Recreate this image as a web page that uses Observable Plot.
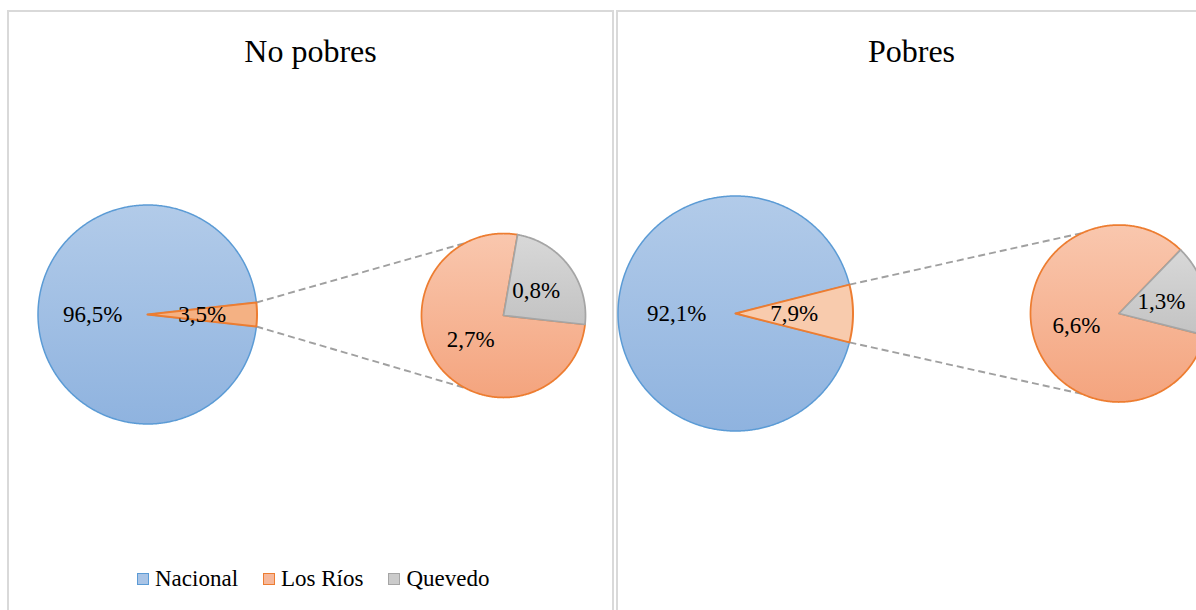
<!DOCTYPE html>
<html>
<head>
<meta charset="utf-8">
<script src="https://cdn.jsdelivr.net/npm/d3@7"></script>
<script src="https://cdn.jsdelivr.net/npm/@observablehq/plot@0.6"></script>
<style>
  html, body { margin: 0; padding: 0; background: #fff; width: 1196px; height: 610px; overflow: hidden; }
  body { position: relative; font-family: "Liberation Serif", "Times New Roman", serif; color: #000; }
  .panel { position: absolute; top: 10px; width: 603px; height: 640px; border: 2px solid #d9d9d9; box-sizing: content-box; }
  .title { position: absolute; top: 35px; width: 400px; text-align: center; font-size: 32px; line-height: 32px; white-space: nowrap; }
  .chart { position: absolute; top: 100px; }
  .legend { position: absolute; top: 567px; left: 137px; display: flex; align-items: center; font-size: 23px; line-height: 23px; white-space: nowrap; }
  .legend .item { display: flex; align-items: center; margin-right: 25px; }
  .legend .sw { width: 10px; height: 10px; border: 1.5px solid; margin-right: 6px; }
</style>
</head>
<body>
<script>
// ---- data ----
const panelTitles = ["No pobres", "Pobres"];
const categories = ["Nacional", "Los Ríos", "Quevedo"];
const nacional = [96.5, 92.1];            // primary pie: Nacional
const losRiosTotal = [3.5, 7.9];          // primary pie: Los Ríos (split in secondary pie)
const losRiosSinQuevedo = [2.66, 6.58];   // secondary pie: Los Ríos
const quevedo = [0.84, 1.32];             // secondary pie: Quevedo

// ---- styling / layout ----
const catStroke = ["#5b9bd5", "#ed7d31", "#a5a5a5"];
const catSwatch = ["#a9c4e6", "#f6b89b", "#cbcbcb"];
const layout = [
  {left: 7, titleX: 310.5, c1: [140, 214], r1: 109.5, c2: [496, 215], r2: 82, conn: 28, otherFill: "#f4b183"},
  {left: 616, titleX: 911.5, c1: [119, 213], r1: 117.5, c2: [502.5, 213], r2: 88.5, conn: 24.5, otherFill: "#f8cbad"}
];
const W = 607, H = 440;
const fmt = v => d3.format(".1f")(v).replace(".", ",") + "%";

function arc(cx, cy, r, a0, a1) {
  const pts = [{x: cx, y: cy}];
  const n = Math.max(2, Math.ceil((a1 - a0) / (Math.PI / 360)));
  for (let i = 0; i <= n; i++) {
    const a = a0 + (a1 - a0) * i / n;
    pts.push({x: cx + r * Math.sin(a), y: cy - r * Math.cos(a)});
  }
  return pts;
}
function pt(cx, cy, r, a) { return {x: cx + r * Math.sin(a), y: cy - r * Math.cos(a)}; }
function gradient(id, stops) {
  return () => {
    const defs = d3.create("svg:defs");
    const g = defs.append("linearGradient").attr("id", id)
      .attr("x1", 0).attr("y1", 0).attr("x2", 0).attr("y2", 1);
    stops.forEach(([o, c]) => g.append("stop").attr("offset", o).attr("stop-color", c));
    return defs.node();
  };
}

layout.forEach((L, i) => {
  const panel = document.createElement("div");
  panel.className = "panel";
  panel.style.left = L.left + "px";
  document.body.appendChild(panel);

  const title = document.createElement("div");
  title.className = "title";
  title.textContent = panelTitles[i];
  title.style.left = (L.titleX - 200) + "px";
  document.body.appendChild(title);

  const [c1x, c1y] = L.c1, [c2x, c2y] = L.c2;
  const total1 = nacional[i] + losRiosTotal[i];
  const half = Math.PI * losRiosTotal[i] / total1;
  const oA0 = Math.PI / 2 - half, oA1 = Math.PI / 2 + half;
  const blueSlice = arc(c1x, c1y, L.r1, oA1, oA0 + 2 * Math.PI);
  const otherSlice = arc(c1x, c1y, L.r1, oA0, oA1);

  const total2 = losRiosSinQuevedo[i] + quevedo[i];
  const gEnd = oA1, gStart = gEnd - 2 * Math.PI * quevedo[i] / total2;
  const greySlice = arc(c2x, c2y, L.r2, gStart, gEnd);
  const orangeSlice = arc(c2x, c2y, L.r2, gEnd, gStart + 2 * Math.PI);

  const ca = L.conn * Math.PI / 180;
  const connectors = [
    {k: 0, ...pt(c1x, c1y, L.r1, oA0)}, {k: 0, ...pt(c2x, c2y, L.r2, -ca)},
    {k: 1, ...pt(c1x, c1y, L.r1, oA1)}, {k: 1, ...pt(c2x, c2y, L.r2, Math.PI + ca)}
  ];

  const labels = [
    {...pt(c1x, c1y, L.r1 * 0.5, (oA1 + oA0 + 2 * Math.PI) / 2), t: fmt(nacional[i])},
    {...pt(c1x, c1y, L.r1 * 0.5, Math.PI / 2), t: fmt(losRiosTotal[i])},
    {...pt(c2x, c2y, L.r2 * 0.5, (gStart + gEnd) / 2), t: fmt(quevedo[i])},
    {...pt(c2x, c2y, L.r2 * 0.5, (gEnd + gStart + 2 * Math.PI) / 2), t: fmt(losRiosSinQuevedo[i])}
  ];

  const chart = Plot.plot({
    width: W, height: H, margin: 0,
    x: {domain: [0, W], range: [0, W], axis: null},
    y: {domain: [0, H], range: [0, H], axis: null},
    style: {background: "transparent", overflow: "visible", fontFamily: "'Liberation Serif','Times New Roman',serif"},
    marks: [
      gradient("gBlue" + i, [[0, "#b2cbe9"], [1, "#8fb3df"]]),
      gradient("gOrange" + i, [[0, "#f9c7ae"], [1, "#f4a47e"]]),
      gradient("gGrey" + i, [[0, "#d8d8d8"], [1, "#c3c3c3"]]),
      Plot.line(connectors, {x: "x", y: "y", z: "k", stroke: "#a0a0a0", strokeWidth: 1.9, strokeDasharray: "7,4", strokeLinecap: "butt"}),
      Plot.line(blueSlice, {x: "x", y: "y", curve: "linear-closed", fill: `url(#gBlue${i})`, stroke: catStroke[0], strokeWidth: 1.5}),
      Plot.line(otherSlice, {x: "x", y: "y", curve: "linear-closed", fill: L.otherFill, stroke: catStroke[1], strokeWidth: 2}),
      Plot.line(orangeSlice, {x: "x", y: "y", curve: "linear-closed", fill: `url(#gOrange${i})`, stroke: catStroke[1], strokeWidth: 1.75}),
      Plot.line(greySlice, {x: "x", y: "y", curve: "linear-closed", fill: `url(#gGrey${i})`, stroke: catStroke[2], strokeWidth: 1.75}),
      Plot.text(labels, {x: "x", y: "y", text: "t", fontSize: 23, fill: "#000", textAnchor: "middle", lineAnchor: "middle"})
    ]
  });
  chart.classList.add("chart");
  chart.style.position = "absolute";
  chart.style.left = L.left + "px";
  chart.style.top = "100px";
  document.body.appendChild(chart);
});

// legend (left panel)
const legend = document.createElement("div");
legend.className = "legend";
categories.forEach((c, j) => {
  const item = document.createElement("div");
  item.className = "item";
  const sw = document.createElement("div");
  sw.className = "sw";
  sw.style.borderColor = catStroke[j];
  sw.style.background = catSwatch[j];
  const tx = document.createElement("span");
  tx.textContent = c;
  item.appendChild(sw); item.appendChild(tx);
  legend.appendChild(item);
});
document.body.appendChild(legend);
</script>
</body>
</html>
